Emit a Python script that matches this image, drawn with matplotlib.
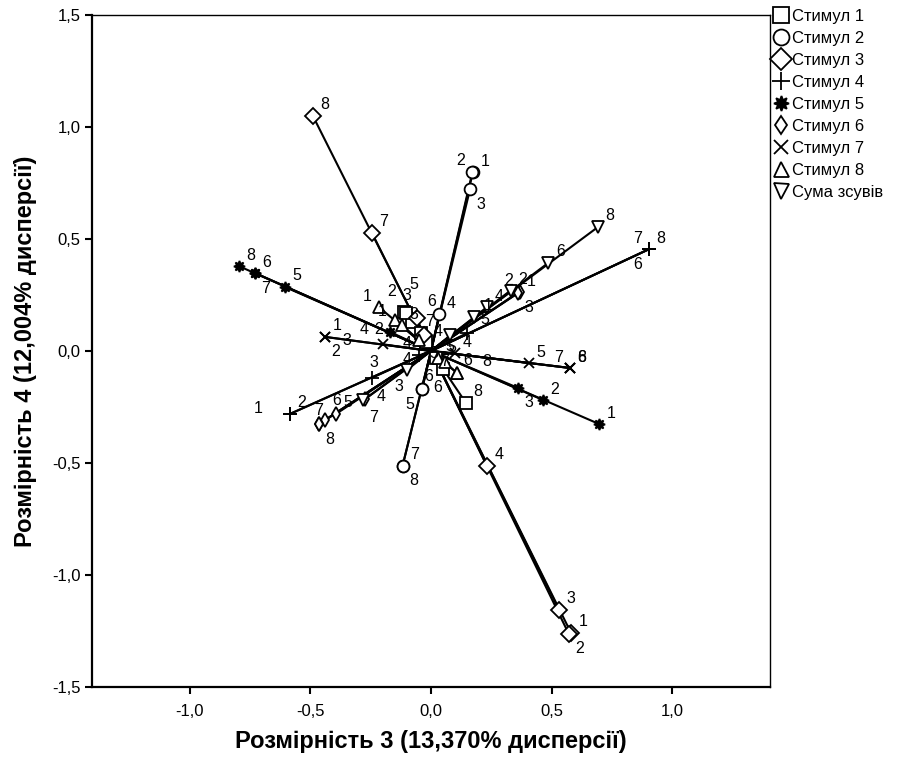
import numpy as np
import matplotlib.pyplot as plt
from matplotlib.ticker import FuncFormatter

plt.rcParams['font.family'] = ['Liberation Sans', 'DejaVu Sans']

# coordinates per stimulus, points labelled 1..8
point_labels = ['1', '2', '3', '4', '5', '6', '7', '8']

stim1_x = [-0.08, -0.11, -0.105, -0.02, 0.02, 0.05, -0.04, 0.145]
stim1_y = [0.13, 0.175, 0.17, 0.04, -0.03, -0.08, 0.08, -0.232]

stim2_x = [0.174, 0.172, 0.162, 0.035, -0.037, -0.037, -0.118, -0.118]
stim2_y = [0.799, 0.80, 0.723, 0.165, -0.17, -0.17, -0.513, -0.513]

stim3_x = [0.581, 0.571, 0.531, 0.232, -0.059, -0.03, -0.245, -0.49]
stim3_y = [-1.259, -1.262, -1.156, -0.513, 0.146, 0.07, 0.527, 1.05]

stim4_x = [-0.585, -0.585, -0.245, -0.05, 0.15, 0.905, 0.905, 0.905]
stim4_y = [-0.281, -0.281, -0.12, -0.02, 0.08, 0.455, 0.455, 0.455]

stim5_x = [0.697, 0.465, 0.361, -0.17, -0.606, -0.73, -0.73, -0.797]
stim5_y = [-0.326, -0.219, -0.165, 0.085, 0.286, 0.348, 0.348, 0.379]

stim6_x = [0.365, 0.37, 0.36, -0.274, -0.394, -0.44, -0.465, -0.465]
stim6_y = [0.263, 0.265, 0.26, -0.214, -0.281, -0.31, -0.326, -0.326]

stim7_x = [-0.44, -0.44, -0.2, 0.1, 0.407, 0.577, 0.577, 0.577]
stim7_y = [0.063, 0.063, 0.03, -0.01, -0.054, -0.076, -0.076, -0.076]

stim8_x = [-0.216, -0.15, -0.12, -0.05, 0.03, 0.06, 0.108, 0.108]
stim8_y = [0.196, 0.14, 0.116, 0.05, -0.03, -0.05, -0.098, -0.098]

sum_x = [0.18, 0.33, -0.1, 0.232, 0.08, 0.486, -0.28, 0.693]
sum_y = [0.15, 0.27, -0.085, 0.196, 0.07, 0.393, -0.22, 0.554]

series_names = ['Стимул 1', 'Стимул 2', 'Стимул 3', 'Стимул 4', 'Стимул 5',
                'Стимул 6', 'Стимул 7', 'Стимул 8', 'Сума зсувів']
series_x = [stim1_x, stim2_x, stim3_x, stim4_x, stim5_x, stim6_x, stim7_x, stim8_x, sum_x]
series_y = [stim1_y, stim2_y, stim3_y, stim4_y, stim5_y, stim6_y, stim7_y, stim8_y, sum_y]

# marker style per series: (marker, size, filled)
styles = [
    ('s', 8.5, False),
    ('o', 8.5, False),
    ('D', 8.5, False),
    ('+', 10, False),
    ((8, 1, 0), 8, True),
    ('d', 7, False),
    ('x', 7, False),
    ('^', 8, False),
    ('v', 8, False),
]

# where each point label sits relative to its marker (pixels: right, up)
UR, UL, DR, DL = (12, 11), (-12, 11), (11, -15), (-12, -15)
R, U = (16, 2), (2, 15)
label_pos = {
    (0, '2'): (-13, 20), (0, '3'): (1, 17), (0, '1'): (-30, 10), (0, '7'): (8, 12),
    (0, '5'): (16, 10), (0, '6'): (-14, -8),
    (1, '1'): UR, (1, '2'): UL, (1, '3'): DR, (1, '5'): DL, (1, '6'): R,
    (1, '7'): UR, (1, '8'): DR,
    (2, '1'): UR, (2, '2'): DR, (2, '3'): UR, (2, '4'): UR, (2, '5'): (-3, 34),
    (2, '6'): (8, 34),
    (3, '1'): (-32, 5), (3, '2'): UR, (3, '3'): U, (3, '6'): DL, (3, '7'): UL, (3, '8'): UR,
    (3, '4'): (-12, -4), (3, '5'): (18, 14),
    (4, '1'): UR, (4, '2'): UR, (4, '3'): DR, (4, '6'): UR, (4, '7'): DR, (4, '8'): UR,
    (4, '4'): (-26, 2),
    (5, '1'): UR, (5, '2'): UL, (5, '3'): DR, (5, '4'): R, (5, '5'): UR, (5, '6'): (12, 20),
    (5, '7'): (0, 14), (5, '8'): DR,
    (6, '1'): UR, (6, '2'): DR, (6, '5'): UR, (6, '7'): UL, (6, '6'): UR, (6, '8'): UR,
    (6, '3'): (-36, 4), (6, '4'): UR,
    (7, '1'): UL, (7, '2'): (-16, -10), (7, '7'): UL, (7, '8'): (30, 11), (7, '4'): (-12, -4),
    (7, '6'): (22, 2),
    (8, '3'): (-8, -16), (8, '5'): (-16, -18), (8, '7'): (10, -17), (8, '1'): (14, 12),
}

fig = plt.figure(figsize=(8.98, 7.58), dpi=100)
ax = fig.add_axes([0.1024, 0.0937, 0.7551, 0.8865])

for k, (xs, ys, name, (mk, ms, filled)) in enumerate(zip(series_x, series_y, series_names, styles)):
    for x, y in zip(xs, ys):
        ax.plot([0, x], [0, y], color='black', lw=1.5, zorder=2)
    ax.plot(xs, ys, ls='none', marker=mk, markersize=ms,
            markerfacecolor='black' if filled else 'white',
            markeredgecolor='black', markeredgewidth=1.3, zorder=3, label=name)
    for x, y, lab in zip(xs, ys, point_labels):
        dx, dy = label_pos.get((k, lab), UR)
        ax.annotate(lab, (x, y), xytext=(dx * 0.72, dy * 0.72), textcoords='offset points',
                    fontsize=11.5, ha='center', va='center', zorder=4)

ax.set_xlim(-1.406, 1.406)
ax.set_ylim(-1.5, 1.5)
ax.set_xticks([-1.0, -0.5, 0.0, 0.5, 1.0])
ax.set_yticks([-1.5, -1.0, -0.5, 0.0, 0.5, 1.0, 1.5])
comma = FuncFormatter(lambda v, p: f'{v:.1f}'.replace('.', ','))
ax.xaxis.set_major_formatter(comma)
ax.yaxis.set_major_formatter(comma)
ax.tick_params(direction='out', length=5, width=1.5, labelsize=12, color='black')
ax.tick_params(axis='x', pad=7)
ax.tick_params(axis='y', pad=3)

for side in ['left', 'bottom']:
    ax.spines[side].set_linewidth(1.6)
for side in ['top', 'right']:
    ax.spines[side].set_linewidth(1.0)

ax.set_xlabel('Розмірність 3 (13,370% дисперсії)', fontsize=17, fontweight='bold', labelpad=8)
ax.set_ylabel('Розмірність 4 (12,004% дисперсії)', fontsize=17, fontweight='bold', labelpad=11)

fig.legend(loc='upper left', bbox_to_anchor=(0.859, 0.99), frameon=False,
           fontsize=12, handlelength=0.9, handletextpad=0.25, labelspacing=0.42,
           borderaxespad=0, borderpad=0.1, markerscale=1.35)

fig.savefig('out.png', dpi=100)
